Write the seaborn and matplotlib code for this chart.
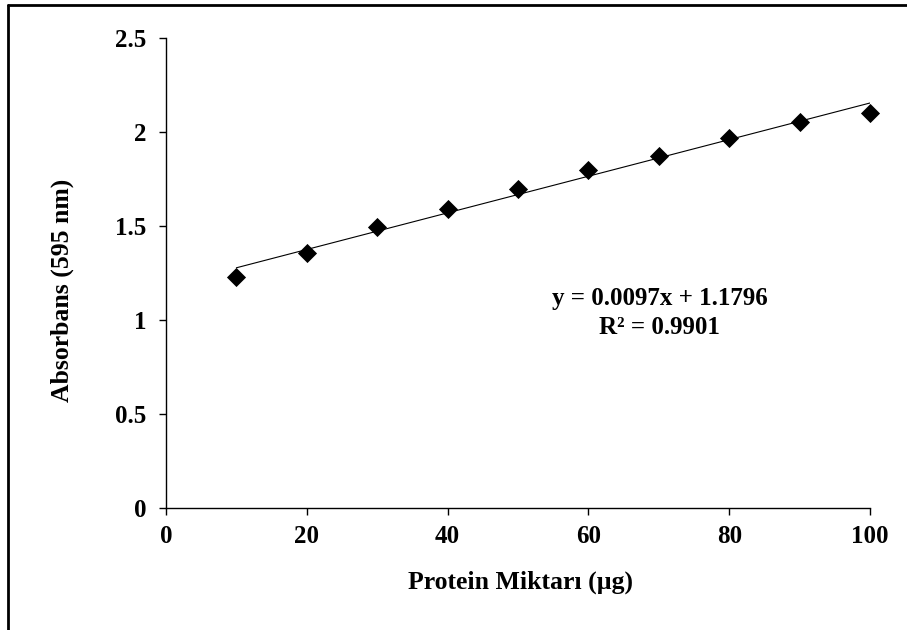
import numpy as np
import pandas as pd
import matplotlib
matplotlib.use("Agg")
import matplotlib.pyplot as plt
from matplotlib.lines import Line2D
import seaborn as sns

protein_ug = [10, 20, 30, 40, 50, 60, 70, 80, 90, 100]
absorbance = [1.230, 1.355, 1.495, 1.589, 1.695, 1.798, 1.874, 1.966, 2.055, 2.103]
x_ticks = [0, 20, 40, 60, 80, 100]
y_ticks = [0, 0.5, 1, 1.5, 2, 2.5]
y_tick_labels = ["0", "0.5", "1", "1.5", "2", "2.5"]
equation_text = "y = 0.0097x + 1.1796"
r2_text = "R² = 0.9901"
x_label = "Protein Miktarı (µg)"
y_label = "Absorbans (595 nm)"

df = pd.DataFrame({"x": protein_ug, "y": absorbance})

sns.set_theme(style="white")
plt.rcParams["font.family"] = ["Liberation Serif", "DejaVu Serif"]
plt.rcParams["font.weight"] = "bold"

fig = plt.figure(figsize=(9.07, 6.30), dpi=100)
ax = fig.add_axes([166 / 907, 122 / 630, 704 / 907, 470 / 630])

sns.regplot(data=df, x="x", y="y", ax=ax, scatter=False, ci=None, truncate=True,
            line_kws=dict(color="black", linewidth=0.8))
sns.scatterplot(data=df, x="x", y="y", ax=ax, marker="D", s=95, color="black",
                edgecolor="black", linewidth=0, zorder=3, clip_on=False)

ax.set_xlim(0, 100)
ax.set_ylim(0, 2.5)
ax.set_xticks(x_ticks)
ax.set_xticklabels([str(t) for t in x_ticks])
ax.set_yticks(y_ticks)
ax.set_yticklabels(y_tick_labels)

for s in ["top", "right"]:
    ax.spines[s].set_visible(False)
for s in ["left", "bottom"]:
    ax.spines[s].set_color("black")
    ax.spines[s].set_linewidth(1.0)

ax.tick_params(axis="both", which="major", direction="out", length=5, width=1,
               color="black", labelsize=18, labelcolor="black")
ax.tick_params(axis="y", pad=9, left=True)
ax.tick_params(axis="x", pad=7, bottom=True)
for lbl in ax.get_xticklabels() + ax.get_yticklabels():
    lbl.set_fontweight("bold")

ax.set_xlabel(x_label, fontsize=18.5, fontweight="bold", color="black")
ax.set_ylabel(y_label, fontsize=18.5, fontweight="bold", color="black")
ax.xaxis.label.set_va("center")
ax.yaxis.label.set_va("center")
ax.xaxis.set_label_coords((520 - 166) / 704, -(582 - 508) / 470)
ax.yaxis.set_label_coords((62 - 166) / 704, (508 - 290) / 470)

ax.text(0.701, 0.446, equation_text, transform=ax.transAxes, ha="center", va="center",
        fontsize=18, fontweight="bold", color="black")
ax.text(0.701, 0.385, r2_text, transform=ax.transAxes, ha="center", va="center",
        fontsize=18, fontweight="bold", color="black")

# outer frame (left and top edges visible)
fig.add_artist(Line2D([7.5 / 907, 907 / 907], [1 - 5 / 630, 1 - 5 / 630],
                      transform=fig.transFigure, color="black", linewidth=2))
fig.add_artist(Line2D([7.5 / 907, 7.5 / 907], [0, 1 - 5 / 630],
                      transform=fig.transFigure, color="black", linewidth=2))

fig.savefig("out.png", dpi=100, facecolor="white")
